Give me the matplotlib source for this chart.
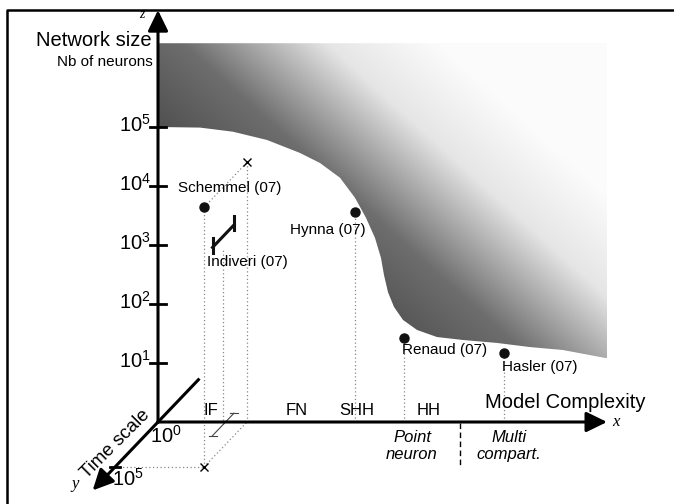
import numpy as np
import matplotlib.pyplot as plt
from matplotlib.patches import Polygon

plt.rcParams['font.family'] = ['Liberation Sans', 'DejaVu Sans']
plt.rcParams['mathtext.fontset'] = 'custom'
plt.rcParams['mathtext.rm'] = 'Liberation Sans'
plt.rcParams['mathtext.default'] = 'regular'

# model complexity categories along the x axis
models = ['IF', 'FN', 'SHH', 'HH']
model_pos = [53, 139, 199, 271]

# network size ticks (log10 of number of neurons)
z_ticks = [1, 2, 3, 4, 5]

# frontier of the shaded region (complexity, log10 neurons)
front_cx = [0, 42, 75, 109, 142, 162, 182, 197, 208, 217, 223, 226, 230,
            236, 245, 259, 279, 305, 339, 372, 405, 449]
front_logn = [5.0, 4.99, 4.92, 4.78, 4.56, 4.39, 4.14, 3.80, 3.46, 3.12, 2.78,
              2.49, 2.20, 1.95, 1.73, 1.56, 1.44, 1.39, 1.34, 1.27, 1.22, 1.08]
top_logn = 6.42

# published systems: complexity, log10 time scale, log10 neurons
sys_names = ['Schemmel (07)', 'Hynna (07)', 'Renaud (07)', 'Hasler (07)']
sys_cx = [89, 197, 246, 346]
sys_t = [5, 0, 0, 0]
sys_logn = [4.4, 3.56, 1.42, 1.17]

# Indiveri covers a range of time scales
ind_cx = 76
ind_t = [0, 2.5]
ind_logn = 3.34

# oblique projection of the time-scale (depth) axis
DX = -8.6
DZ = 9 / 59.0


def proj(cx, t, z):
    return cx + DX * t, z - DZ * t


def at(x, y):
    # pixel position of a label -> data coords
    return x - 158, (422 - y) / 59.0


fig = plt.figure(figsize=(6.74, 5.04), dpi=100)
ax = fig.add_axes([0, 0, 1, 1])
ax.set_xlim(-158, 516)
ax.set_ylim(-82 / 59.0, 422 / 59.0)
ax.axis('off')

# frame
ax.plot([7 / 674, 7 / 674, 1.02], [-0.02, 1 - 10 / 504, 1 - 10 / 504], color='k',
        lw=1.8, transform=ax.transAxes, clip_on=False)

# shaded region with diagonal grey gradient
xs = np.linspace(0, front_cx[-1], 450)
ys = np.linspace(min(front_logn), top_logn, 330)
XX, YY = np.meshgrid(xs, ys)
s = 0.9 * (XX + 158) - (422 - 59 * YY)
g = np.interp(s, [0, 120, 250, 350], [0.30, 0.43, 0.90, 0.985])
img = ax.imshow(np.dstack([g, g, g]), extent=(0, front_cx[-1], min(front_logn), top_logn),
                origin='lower', aspect='auto', interpolation='bilinear', zorder=1)
verts = list(zip(front_cx, front_logn)) + [(front_cx[-1], top_logn), (0, top_logn)]
poly = Polygon(verts, closed=True, facecolor='none', edgecolor='none')
ax.add_patch(poly)
img.set_clip_path(poly)

# axes
arrow = dict(arrowstyle='-|>,head_length=0.45,head_width=0.22', color='k', lw=2.2,
             mutation_scale=28, shrinkA=0, shrinkB=0)
ax.annotate('', xy=(0, 6.98), xytext=(0, 0), arrowprops=arrow, zorder=5)
ax.annotate('', xy=(449, 0), xytext=(0, 0), arrowprops=arrow, zorder=5)
ax.annotate('', xy=proj(0, 7.6, 0), xytext=(0, 0), arrowprops=arrow, zorder=5)
bx, bz = proj(0, -4.7, 0)
ax.plot([0, bx], [0, bz], color='k', lw=2.2, zorder=5)

for k in z_ticks:
    ax.plot([-8, 8], [k, k], color='k', lw=2.0, zorder=5)
    ax.text(-7, k + 0.03, '10$^{%d}$' % k, ha='right', va='center', fontsize=14.5)

tx, tz = proj(0, 5, 0)
ax.plot([tx - 5, tx + 5], [tz, tz], color='k', lw=2.0, zorder=5)
ax.text(*at(166, 436), '10$^{0}$', ha='center', va='center', fontsize=14.5)
ax.text(*at(128, 479), '10$^{5}$', ha='center', va='center', fontsize=14.5)

# axis titles
ax.text(*at(152, 40), 'Network size', ha='right', va='center', fontsize=14.5)
ax.text(*at(153, 62), 'Nb of neurons', ha='right', va='center', fontsize=11)
ax.text(*at(565, 402), 'Model Complexity', ha='center', va='center', fontsize=14.5)
ax.text(*at(116, 444), 'Time scale', ha='center', va='center', fontsize=13.5,
        rotation=45, rotation_mode='anchor')
ax.text(*at(142, 14), 'z', ha='center', va='center', fontsize=10,
        family='Liberation Serif', style='italic')
ax.text(*at(616, 422), 'x', ha='center', va='center', fontsize=12,
        family='Liberation Serif', style='italic')
ax.text(*at(75, 484), 'y', ha='center', va='center', fontsize=12,
        family='Liberation Serif', style='italic')

# model categories
for name, p in zip(models, model_pos):
    ax.text(p, 0.19, name, ha='center', va='center', fontsize=12)

ax.plot([302, 302], [-0.02, -0.78], color='k', lw=1.0, ls=(0, (4, 2.5)))
ax.text(*at(412, 446), 'Point\nneuron', ha='center', va='center', fontsize=12,
        style='italic', linespacing=1.2)
ax.text(*at(509, 446), 'Multi\ncompart.', ha='center', va='center', fontsize=12,
        style='italic', linespacing=1.2)

dot = dict(color='#888888', lw=0.9, ls=(0, (1, 2)), zorder=2)

# Schemmel: projected box
c, t, z = sys_cx[0], sys_t[0], sys_logn[0]
for a, b in [((c, t, z), (c, t, 0)), ((0, t, 0), (c, t, 0)), ((c, t, 0), (c, 0, 0)),
             ((c, 0, 0), (c, 0, z)), ((c, t, z), (c, 0, z))]:
    p1, p2 = proj(*a), proj(*b)
    ax.plot([p1[0], p2[0]], [p1[1], p2[1]], **dot)
for pt in [(c, 0, z), (c, t, 0)]:
    ax.plot(*proj(*pt), marker='x', ms=6, mew=1.0, color='k', zorder=4)

# other systems: drop lines to the complexity axis
for i in range(1, len(sys_names)):
    ax.plot([sys_cx[i], sys_cx[i]], [0, sys_logn[i]], **dot)

for i in range(len(sys_names)):
    ax.plot(*proj(sys_cx[i], sys_t[i], sys_logn[i]), 'o', ms=6.5, color='#111111', zorder=4)

ax.text(*at(178, 188), sys_names[0], ha='left', va='center', fontsize=11)
ax.text(*at(290, 230), sys_names[1], ha='left', va='center', fontsize=11)
ax.text(*at(402, 350), sys_names[2], ha='left', va='center', fontsize=11)
ax.text(*at(502, 367), sys_names[3], ha='left', va='center', fontsize=11)

# Indiveri range and its shadow on the floor
x0, z0 = proj(ind_cx, ind_t[0], ind_logn)
x1, z1 = proj(ind_cx, ind_t[1], ind_logn)
ax.plot([x0, x1], [z0, z1], color='#111111', lw=2.2, zorder=4)
for xe, ze in [(x0, z0), (x1, z1)]:
    ax.plot([xe, xe], [ze - 0.09, ze + 0.16], color='#111111', lw=2.2, zorder=4)
fz = 0.15
f0 = proj(ind_cx, ind_t[0], fz)
f1 = proj(ind_cx, ind_t[1], fz)
ax.plot([f0[0], f1[0]], [f0[1], f1[1]], color='#444444', lw=0.8, zorder=3)
for fe in (f0, f1):
    ax.plot([fe[0] - 4, fe[0] + 4], [fe[1], fe[1]], color='#444444', lw=0.8, zorder=3)
tm = np.mean(ind_t)
m0 = proj(ind_cx, tm, fz)
m1 = proj(ind_cx, tm, ind_logn)
ax.plot([m0[0], m1[0]], [m0[1], m1[1] - 0.2], **dot)
ax.text(*at(207, 262), 'Indiveri (07)', ha='left', va='center', fontsize=11)

fig.savefig('out.png', dpi=100)
